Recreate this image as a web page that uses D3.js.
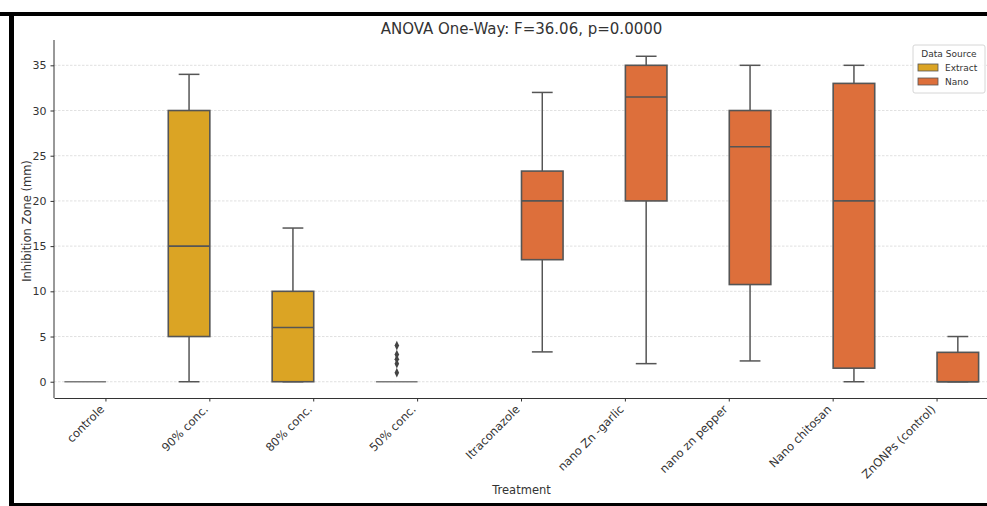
<!DOCTYPE html>
<html>
<head>
<meta charset="utf-8">
<style>
  body { margin: 0; background: #fff; }
  svg { display: block; font-family: "DejaVu Sans", sans-serif; }
</style>
</head>
<body>
<svg id="chart" width="987" height="506"></svg>
<script src="https://d3js.org/d3.v7.min.js"></script>
<script>

// categories and their data source (hue)
var categories = ["controle", "90% conc.", "80% conc.", "50% conc.", "Itraconazole",
                  "nano Zn -garlic", "nano zn pepper", "Nano chitosan", "ZnONPs (control)"];
var sources = ["Extract", "Extract", "Extract", "Extract", "Nano", "Nano", "Nano", "Nano", "Nano"];

// box summaries
var whiskLow  = [0, 0, 0, 0, 3.3, 2, 2.3, 0, 0];
var q1        = [0, 5, 0, 0, 13.5, 20, 10.75, 1.5, 0];
var medians   = [0, 15, 6, 0, 20, 31.5, 26, 20, 0];
var q3        = [0, 30, 10, 0, 23.3, 35, 30, 33, 3.25];
var whiskHigh = [0, 34, 17, 0, 32, 36, 35, 35, 5];
var outliers  = [[], [], [], [1, 2, 2.5, 3, 4], [], [], [], [], []];

var hueLevels = ["Extract", "Nano"];
var hueColors = ["#dba424", "#dd6f3b"];
var yTicks = [0, 5, 10, 15, 20, 25, 30, 35];

var svg = d3.select("#chart");

// black frame of the screenshot
svg.append("rect").attr("x", 0).attr("y", 12).attr("width", 987).attr("height", 4).attr("fill", "#000");
svg.append("rect").attr("x", 9).attr("y", 12).attr("width", 5).attr("height", 494).attr("fill", "#000");
svg.append("rect").attr("x", 9).attr("y", 503).attr("width", 978).attr("height", 3).attr("fill", "#000");

var margin = {left: 54, top: 40, right: 989, bottom: 398};

var x = d3.scaleBand()
    .domain(categories)
    .range([margin.left, margin.right])
    .paddingInner(0).paddingOuter(0);

var y = d3.scaleLinear()
    .domain([-1.8, 37.8])
    .range([margin.bottom, margin.top]);

var hue = d3.scaleBand()
    .domain(hueLevels)
    .range([0, x.bandwidth() * 0.8]);

var color = d3.scaleOrdinal().domain(hueLevels).range(hueColors);

var g = svg.append("g");

// grid
g.selectAll("line.grid")
  .data(yTicks)
  .enter().append("line")
    .attr("class", "grid")
    .attr("x1", margin.left).attr("x2", margin.right)
    .attr("y1", function(d) { return y(d); })
    .attr("y2", function(d) { return y(d); })
    .attr("stroke", "#d4d4d4")
    .attr("stroke-width", 0.7)
    .attr("stroke-dasharray", "2.5,1.5");

// boxes
var edge = "#555";
categories.forEach(function(c, i) {
  var bx = x(c) + x.bandwidth() * 0.1 + hue(sources[i]);
  var bw = hue.bandwidth();
  var cx = bx + bw / 2;
  var flat = q1[i] === q3[i];

  // whiskers
  if (whiskLow[i] < q1[i]) {
    g.append("line").attr("x1", cx).attr("x2", cx)
      .attr("y1", y(whiskLow[i])).attr("y2", y(q1[i]))
      .attr("stroke", edge).attr("stroke-width", 1.5);
  }
  if (whiskHigh[i] > q3[i]) {
    g.append("line").attr("x1", cx).attr("x2", cx)
      .attr("y1", y(whiskHigh[i])).attr("y2", y(q3[i]))
      .attr("stroke", edge).attr("stroke-width", 1.5);
  }
  if (!flat) {
    [whiskLow[i], whiskHigh[i]].forEach(function(v) {
      g.append("line").attr("x1", cx - bw / 4).attr("x2", cx + bw / 4)
        .attr("y1", y(v)).attr("y2", y(v))
        .attr("stroke", edge).attr("stroke-width", 1.5);
    });
  }

  g.append("rect")
    .attr("x", bx).attr("width", bw)
    .attr("y", y(q3[i])).attr("height", Math.max(0, y(q1[i]) - y(q3[i])))
    .attr("fill", color(sources[i]))
    .attr("stroke", flat ? "#7a7a7a" : edge)
    .attr("stroke-width", 1.6);

  g.append("line").attr("x1", bx).attr("x2", bx + bw)
    .attr("y1", y(medians[i])).attr("y2", y(medians[i]))
    .attr("stroke", flat ? "#7a7a7a" : edge).attr("stroke-width", 1.6);

  g.selectAll(null).data(outliers[i]).enter().append("path")
    .attr("d", d3.symbol(d3.symbolDiamond, 28))
    .attr("transform", function(d) { return "translate(" + cx + "," + y(d) + ") scale(0.8,1)"; })
    .attr("fill", "#444");
});

// axes
var yAxis = g.append("g")
    .attr("transform", "translate(" + margin.left + ",0)")
    .call(d3.axisLeft(y).tickValues(yTicks).tickSize(3.5).tickPadding(4));
yAxis.select(".domain").attr("d", "M0," + margin.top + "V" + margin.bottom).attr("stroke", "#333");

var xAxis = g.append("g")
    .attr("transform", "translate(0," + margin.bottom + ")")
    .call(d3.axisBottom(x).tickSize(3.5).tickSizeOuter(0));
xAxis.select(".domain").attr("stroke", "#333");

[yAxis, xAxis].forEach(function(a) {
  a.selectAll(".tick line").attr("stroke", "#333");
  a.selectAll("text").attr("fill", "#333").style("font-size", "11px").style("font-family", "DejaVu Sans");
});

xAxis.selectAll("text")
    .attr("text-anchor", "end")
    .attr("dy", null)
    .attr("y", 0)
    .style("font-size", "11.5px")
    .attr("transform", "translate(-1,12) rotate(-45)");

// title and labels
svg.append("text")
    .attr("x", (margin.left + margin.right) / 2).attr("y", 34)
    .attr("text-anchor", "middle")
    .attr("fill", "#333").style("font-size", "15px")
    .text("ANOVA One-Way: F=36.06, p=0.0000");

svg.append("text")
    .attr("transform", "translate(31," + ((margin.top + margin.bottom) / 2 + 2) + ") rotate(-90)")
    .attr("text-anchor", "middle")
    .attr("fill", "#333").style("font-size", "11.5px")
    .text("Inhibition Zone (mm)");

svg.append("text")
    .attr("x", (margin.left + margin.right) / 2).attr("y", 494)
    .attr("text-anchor", "middle")
    .attr("fill", "#333").style("font-size", "11.5px")
    .text("Treatment");

// legend
var lg = svg.append("g").attr("transform", "translate(913,45)");
lg.append("rect").attr("width", 72).attr("height", 48).attr("rx", 2)
    .attr("fill", "#fff").attr("fill-opacity", 0.85).attr("stroke", "#d6d6d6");
lg.append("text").attr("x", 36).attr("y", 12).attr("text-anchor", "middle")
    .attr("fill", "#333").style("font-size", "9px").text("Data Source");
hueLevels.forEach(function(h, i) {
  lg.append("rect").attr("x", 5).attr("y", 19 + i * 14).attr("width", 20).attr("height", 7)
    .attr("fill", color(h)).attr("stroke", "#555").attr("stroke-width", 0.8);
  lg.append("text").attr("x", 32).attr("y", 26 + i * 14)
    .attr("fill", "#333").style("font-size", "9px").text(h);
});

</script>
</body>
</html>
